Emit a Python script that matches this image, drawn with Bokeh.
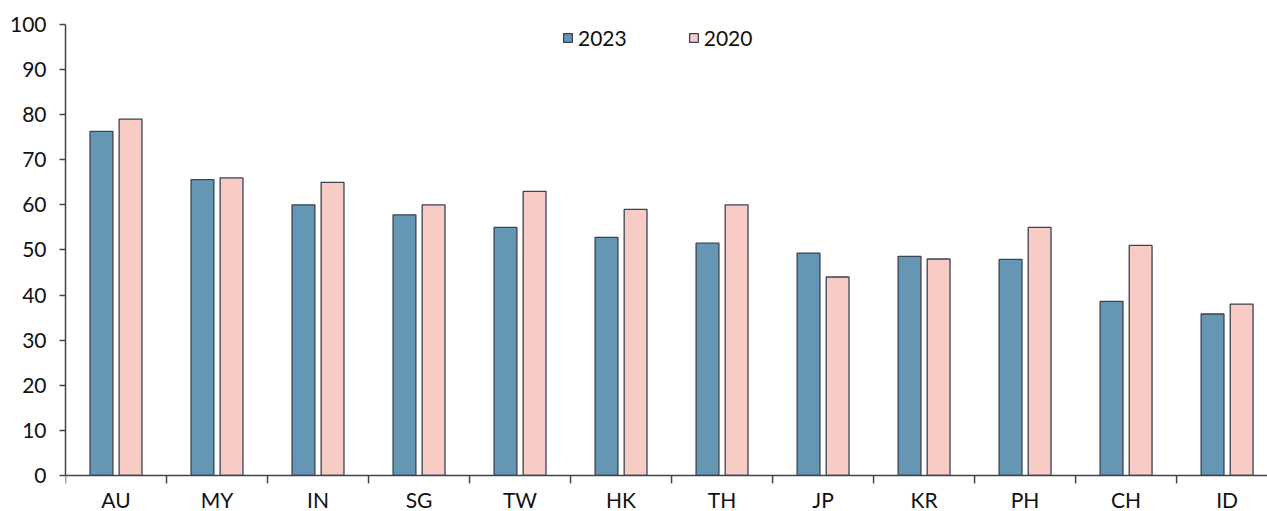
import numpy as np
from bokeh.plotting import figure
from bokeh.models import Range1d, FixedTicker, Legend, LegendItem, Span
from bokeh.core.properties import value
from bokeh.embed import file_html
from bokeh.resources import INLINE

# Market codes and scores for the two survey years
categories = ["AU", "MY", "IN", "SG", "TW", "HK", "TH", "JP", "KR", "PH", "CH", "ID"]
values_2023 = [76.3, 65.6, 60.0, 57.8, 55.0, 52.8, 51.5, 49.3, 48.6, 47.9, 38.6, 35.8]
values_2020 = [79.0, 66.0, 65.0, 60.0, 63.0, 59.0, 60.0, 44.0, 48.0, 55.0, 51.0, 38.0]
y_ticks = [0, 10, 20, 30, 40, 50, 60, 70, 80, 90, 100]

FONT = "Lato"
FONT_SIZE = "21px"
TEXT_COLOR = "#111111"
AXIS_COLOR = "#3d4555"
EDGE = "#3b4354"
BLUE = "#6596b3"
PINK = "#f8cbc5"

W, H = 1267, 511
TOP, LEFT = 24, 65
Y_MIN = -8.0            # room under the baseline for the category labels
px_per_unit = (H - TOP) / (100 - Y_MIN)
TICK_LEN = 8 / px_per_unit

n = len(categories)
centers = np.arange(n) + 0.5
bounds = np.arange(n + 1)
offset = 0.144
bar_w = 0.226

p = figure(width=W, height=H, output_backend="svg", toolbar_location=None,
           x_range=Range1d(0, 11.9), y_range=Range1d(Y_MIN, 100),
           min_border_left=LEFT, min_border_right=0, min_border_top=TOP, min_border_bottom=0)
p.outline_line_color = None
p.xgrid.grid_line_color = None
p.ygrid.grid_line_color = None
p.xaxis.visible = False
p.background_fill_color = "white"
p.border_fill_color = "white"

r23 = p.vbar(x=centers - offset, top=values_2023, width=bar_w, bottom=0,
             fill_color=BLUE, line_color=EDGE, line_width=1.3)
r20 = p.vbar(x=centers + offset, top=values_2020, width=bar_w, bottom=0,
             fill_color=PINK, line_color=EDGE, line_width=1.3)

# category axis: baseline, ticks on category boundaries, names under each group
p.add_layout(Span(location=0, dimension="width", line_color=AXIS_COLOR, line_width=1.5))
p.segment(x0=bounds, y0=np.zeros(n + 1), x1=bounds, y1=np.full(n + 1, -TICK_LEN),
          line_color=AXIS_COLOR, line_width=1.5)
p.text(x=centers, y=np.zeros(n), text=categories, y_offset=12,
       text_align="center", text_baseline="top",
       text_font=value(FONT), text_font_size=value(FONT_SIZE), text_color=TEXT_COLOR)

ya = p.yaxis[0]
ya.bounds = (0, 100)
ya.ticker = FixedTicker(ticks=y_ticks, minor_ticks=[])
ya.major_tick_out = 6
ya.major_tick_in = 0
ya.major_tick_line_color = AXIS_COLOR
ya.major_tick_line_width = 1.5
ya.axis_line_color = AXIS_COLOR
ya.axis_line_width = 1.5
ya.major_label_standoff = 13
ya.major_label_text_font = FONT
ya.major_label_text_font_size = FONT_SIZE
ya.major_label_text_color = TEXT_COLOR

legend = Legend(items=[LegendItem(label="2023", renderers=[r23]),
                       LegendItem(label="2020", renderers=[r20])],
                orientation="horizontal", location=(497, 461),
                glyph_width=11, glyph_height=11, label_standoff=5, spacing=61,
                label_height=26,
                padding=0, margin=0, border_line_color=None, background_fill_alpha=0,
                label_text_font=FONT, label_text_font_size=FONT_SIZE,
                label_text_color=TEXT_COLOR)
p.add_layout(legend)

open("out.html", "w").write(file_html(p, INLINE))
